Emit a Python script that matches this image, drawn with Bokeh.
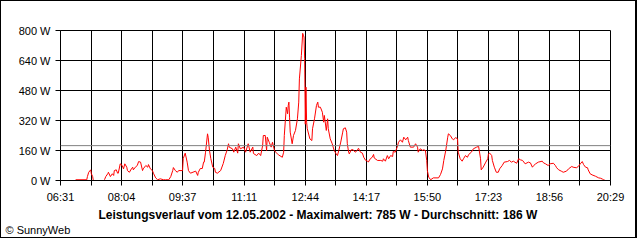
from bokeh.plotting import figure
from bokeh.models import Range1d, FixedTicker, PrintfTickFormatter, Span, Title
from bokeh.embed import file_html
from bokeh.resources import INLINE

# ---- data ----
x_tick_labels = ["06:31", "08:04", "09:37", "11:11", "12:44", "14:17", "15:50", "17:23", "18:56", "20:29"]
y_ticks = [0, 160, 320, 480, 640, 800]
date_text = "12.05.2002"
max_power = 785
avg_power = 186

# minutes since midnight
minutes = [414, 431, 432, 434, 437, 438, 440, 441, 452, 455, 458, 460, 463, 464, 467, 470, 472, 473, 476, 478,
           479, 482, 485, 487, 489, 492, 493, 496, 499, 501, 502, 505, 508, 510, 513, 516, 517, 521, 524, 525,
           528, 531, 533, 536, 539, 543, 548, 551, 556, 559, 562, 563, 566, 569, 571, 577, 578, 581, 584, 586,
           589, 597, 600, 601, 604, 607, 609, 610, 612, 615, 616, 618, 620, 623, 626, 627, 630, 635, 639, 642,
           645, 647, 648, 653, 655, 658, 661, 662, 665, 670, 673, 677, 680, 684, 685, 690, 693, 696, 699, 700,
           703, 705, 706, 709, 712, 714, 717, 719, 723, 729, 731, 732, 735, 737, 738, 739, 740, 741, 744, 746,
           749, 752, 754, 755, 758, 760, 761, 762, 763, 764, 765, 766, 767, 771, 774, 775, 778, 781, 783, 784,
           787, 790, 792, 793, 796, 798, 799, 802, 805, 808, 811, 813, 815, 818, 821, 822, 825, 827, 828, 830,
           831, 834, 837, 840, 843, 845, 848, 851, 853, 856, 859, 860, 863, 866, 868, 869, 874, 879, 882, 883,
           886, 889, 891, 894, 897, 898, 901, 904, 906, 909, 912, 914, 917, 920, 921, 924, 929, 932, 935, 936,
           939, 943, 944, 947, 949, 950, 952, 955, 959, 967, 970, 973, 975, 978, 981, 982, 985, 988, 990, 993,
           996, 997, 1000, 1003, 1005, 1008, 1011, 1013, 1017, 1020, 1025, 1028, 1029, 1031, 1032, 1035, 1039, 1042, 1043, 1045,
           1048, 1049, 1052, 1055, 1058, 1060, 1064, 1067, 1072, 1075, 1078, 1081, 1086, 1089, 1092, 1095, 1099, 1104, 1107, 1110,
           1112, 1115, 1119, 1125, 1127, 1130, 1134, 1137, 1142, 1145, 1147, 1150, 1154, 1157, 1162, 1165, 1170, 1172, 1177, 1180,
           1183, 1186, 1188, 1191, 1194, 1195, 1198, 1201, 1206, 1211, 1214, 1217, 1218, 1221]
watts = [4, 4, 21, 44, 57, 36, 21, 0, 0, float("nan"), 4, 21, 36, 44, 21, 36, 27, 53, 57, 39,
         39, 89, 80, 62, 89, 71, 53, 44, 62, 71, 57, 71, 80, 101, 98, 53, 62, 80, 71, 85,
         62, 53, 36, 14, 4, 9, 4, 4, 4, 21, 53, 69, 53, 44, 53, 53, 117, 146, 98, 53,
         39, 50, 27, 44, 64, 64, 98, 98, 151, 249, 231, 160, 117, 71, 64, 44, 39, 53, 91, 133,
         164, 196, 178, 169, 151, 178, 146, 196, 169, 178, 151, 196, 151, 178, 144, 133, 146, 133, 187, 240,
         240, 160, 231, 204, 178, 204, 160, 151, 137, 124, 151, 240, 391, 356, 400, 418, 338, 258, 196, 240,
         267, 329, 418, 542, 667, 785, 775, 765, 649, 300, 498, 311, 276, 222, 213, 276, 329, 400, 418, 391,
         391, 364, 311, 347, 267, 329, 276, 222, 196, 160, 142, 133, 160, 205, 258, 276, 281, 258, 196, 151,
         142, 164, 164, 151, 160, 172, 151, 146, 124, 107, 103, 98, 116, 124, 139, 120, 107, 107, 103, 116,
         103, 133, 116, 133, 128, 155, 151, 178, 204, 217, 204, 231, 217, 231, 213, 178, 178, 196, 178, 151,
         169, 160, 164, 160, 107, 53, 18, 4, 14, 14, 32, 62, 107, 160, 231, 249, 240, 222, 217, 229,
         222, 151, 116, 103, 116, 133, 124, 139, 151, 169, 178, 182, 160, 116, 57, 71, 98, 116, 142, 146,
         133, 107, 71, 44, 44, 62, 80, 98, 101, 107, 98, 103, 92, 116, 110, 107, 89, 98, 94, 71,
         80, 89, 98, 103, 94, 89, 80, 89, 92, 80, 68, 57, 50, 44, 50, 62, 75, 71, 68, 75,
         89, 101, 85, 71, 68, 57, 36, 30, 23, 14, 12, 7, 5, 0]


def to_min(s):
    h, m = s.split(":")
    return int(h) * 60 + int(m)


major = [to_min(s) for s in x_tick_labels]
minor = [(a + b) / 2 for a, b in zip(major[:-1], major[1:])]

FONT = "Liberation Sans"

p = figure(width=637, height=238, output_backend="svg", toolbar_location=None,
           x_range=Range1d(major[0], major[-1]), y_range=Range1d(0, 800),
           min_border_left=59, min_border_right=28, min_border_top=29, min_border_bottom=59,
           background_fill_color="white", border_fill_color="white",
           outline_line_color="black", outline_line_width=1)
p.styles = {"border-style": "solid", "border-color": "black",
            "border-width": "1px 2px 1px 1px"}

p.line(minutes, watts, color="#FF0000", line_width=1)

p.add_layout(Span(location=avg_power, dimension="width", line_color="#808080", line_width=1))

p.xaxis.ticker = FixedTicker(ticks=major, minor_ticks=minor)
p.xaxis.major_label_overrides = {m: s for m, s in zip(major, x_tick_labels)}
p.yaxis.ticker = FixedTicker(ticks=y_ticks)
p.yaxis.formatter = PrintfTickFormatter(format="%d W")

for ax in (p.xaxis[0], p.yaxis[0]):
    ax.axis_line_color = "black"
    ax.major_tick_line_color = "black"
    ax.major_tick_out = 5
    ax.major_tick_in = 0
    ax.major_label_text_font = FONT
    ax.major_label_text_font_size = "11px"
    ax.major_label_text_color = "black"
    ax.major_label_standoff = 5
p.xaxis.minor_tick_line_color = "black"
p.xaxis.minor_tick_out = 5
p.xaxis.minor_tick_in = 0
p.yaxis.minor_tick_line_color = None

p.xgrid.grid_line_color = "black"
p.xgrid.minor_grid_line_color = "black"
p.ygrid.grid_line_color = "black"
p.xgrid.grid_line_alpha = 1
p.ygrid.grid_line_alpha = 1

title_text = f"Leistungsverlauf vom {date_text} - Maximalwert: {max_power} W - Durchschnitt: {avg_power} W"
p.add_layout(Title(text=title_text, align="left", offset=38, standoff=0,
                   text_font=FONT, text_font_size="12px", text_font_style="bold",
                   text_line_height=0.8, text_color="black"), "below")
p.add_layout(Title(text="\u00a9 SunnyWeb", align="left", offset=-55, standoff=0,
                   text_font=FONT, text_font_size="11px", text_font_style="normal",
                   text_line_height=0.8, text_color="black"), "below")

open("out.html", "w").write(file_html(p, INLINE))
